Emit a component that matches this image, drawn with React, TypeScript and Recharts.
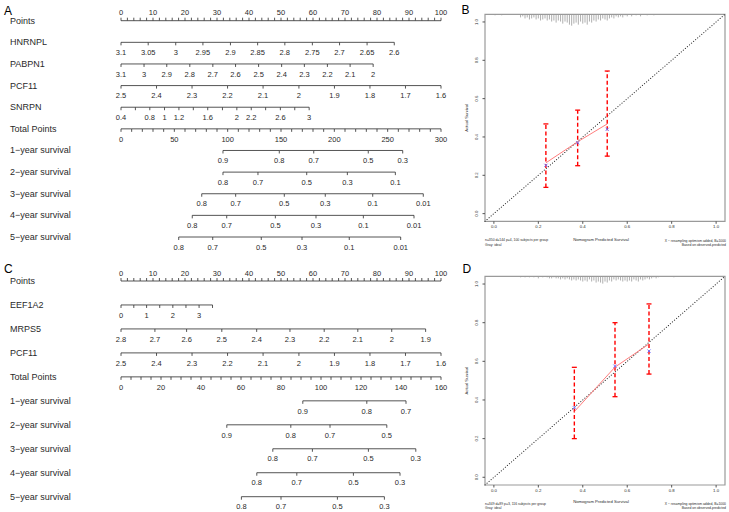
import React from 'react';
import { ComposedChart, Scatter, XAxis, YAxis, ReferenceArea } from 'recharts';

const FONT = '"Liberation Sans", Arial, Helvetica, sans-serif';
const INK = '#2a2a2a';

const range = (a: number, b: number, step: number) => {
  const out: number[] = [];
  for (let v = a; v <= b + 1e-9; v += step) out.push(Math.round(v * 1000) / 1000);
  return out;
};

// ---------------- Panel A nomogram ----------------
const rowNamesA = ['Points', 'HNRNPL', 'PABPN1', 'PCF11', 'SNRPN', 'Total Points',
  '1\u2212year survival', '2\u2212year survival', '3\u2212year survival', '4\u2212year survival', '5\u2212year survival'];
const pointsTicks = range(0, 100, 2);
const pointsLabels = pointsTicks.map((v) => (v % 10 === 0 ? String(v) : ''));

const hnrnplLabels = ['3.1', '3.05', '3', '2.95', '2.9', '2.85', '2.8', '2.75', '2.7', '2.65', '2.6'];
const hnrnplPoints = [0, 8.5, 17.1, 25.6, 34.2, 42.7, 51.2, 59.8, 68.3, 76.9, 85.4];
const pabpn1Labels = ['3.1', '3', '2.9', '2.8', '2.7', '2.6', '2.5', '2.4', '2.3', '2.2', '2.1', '2'];
const pabpn1Points = [0, 7.2, 14.3, 21.5, 28.7, 35.8, 43.0, 50.2, 57.3, 64.5, 71.6, 78.8];
const pcf11Labels = ['2.5', '2.4', '2.3', '2.2', '2.1', '2', '1.9', '1.8', '1.7', '1.6'];
const pcf11Points = [0, 11.1, 22.2, 33.3, 44.4, 55.6, 66.7, 77.8, 88.9, 100];
const snrpnLabels = ['0.4', '', '0.8', '1', '1.2', '', '1.6', '', '2', '2.2', '', '2.6', '', '3'];
const snrpnPoints = [0, 4.5, 9.0, 13.6, 18.1, 22.6, 27.1, 31.7, 36.2, 40.7, 45.2, 49.8, 54.3, 58.8];
const totalTicksA = range(0, 300, 10);
const totalLabelsA = totalTicksA.map((v) => (v % 50 === 0 ? String(v) : ''));

const surv1ALabels = ['0.9', '0.8', '0.7', '0.5', '0.3'];
const surv1APos = [95.6, 148.4, 180.7, 231.8, 264.1];
const surv2ALabels = ['0.8', '0.7', '0.5', '0.3', '0.1'];
const surv2APos = [95.6, 128.4, 174.1, 212.2, 257.2];
const surv3ALabels = ['0.8', '0.7', '0.5', '0.3', '0.1', '0.01'];
const surv3APos = [75.7, 107.5, 153.1, 191.5, 236.0, 283.4];
const surv4ALabels = ['0.8', '0.7', '0.5', '0.3', '0.1', '0.01'];
const surv4APos = [66.8, 99.1, 144.7, 182.8, 227.2, 274.7];
const surv5ALabels = ['0.8', '0.7', '0.5', '0.3', '0.1', '0.01'];
const surv5APos = [54.1, 86.0, 131.5, 169.7, 214.0, 262.2];

// ---------------- Panel C nomogram ----------------
const rowNamesC = ['Points', 'EEF1A2', 'MRPS5', 'PCF11', 'Total Points',
  '1\u2212year survival', '2\u2212year survival', '3\u2212year survival', '4\u2212year survival', '5\u2212year survival'];
const eef1a2Labels = ['0', '', '1', '', '2', '', '3', ''];
const eef1a2Points = [0, 4.0, 8.0, 12.1, 16.2, 20.3, 24.4, 28.6];
const mrps5Labels = ['2.8', '2.7', '2.6', '2.5', '2.4', '2.3', '2.2', '2.1', '2', '1.9'];
const mrps5Points = [0, 10.6, 20.5, 31.5, 42.4, 52.8, 63.5, 74.0, 84.6, 95.2];
const pcf11CLabels = ['2.5', '2.4', '2.3', '2.2', '2.1', '2', '1.9', '1.8', '1.7', '1.6'];
const pcf11CPoints = [0, 11.1, 22.2, 33.3, 44.4, 55.6, 66.7, 77.8, 88.9, 100];
const totalTicksC = range(0, 160, 5);
const totalLabelsC = totalTicksC.map((v) => (v % 20 === 0 ? String(v) : ''));

const surv1CLabels = ['0.9', '0.8', '0.7'];
const surv1CPos = [90.9, 122.9, 142.5];
const surv2CLabels = ['0.9', '0.8', '0.7', '0.5'];
const surv2CPos = [52.9, 84.9, 104.5, 132.9];
const surv3CLabels = ['0.8', '0.7', '0.5', '0.3'];
const surv3CPos = [75.9, 95.7, 123.7, 147.4];
const surv4CLabels = ['0.8', '0.7', '0.5', '0.3'];
const surv4CPos = [67.9, 87.9, 116.2, 139.5];
const surv5CLabels = ['0.8', '0.7', '0.5', '0.3'];
const surv5CPos = [60.2, 80.0, 108.2, 131.7];

// ---------------- Calibration B ----------------
const calTicks = [0, 0.2, 0.4, 0.6, 0.8, 1.0];
const calBPred = [0.234, 0.377, 0.51];
const calBObs = [0.265, 0.375, 0.468];
const calBCorr = [0.252, 0.37, 0.44];
const calBLow = [0.137, 0.25, 0.30];
const calBHigh = [0.468, 0.54, 0.744];
const rugBX = [0.005, 0.035, 0.12, 0.13, 0.14, 0.15, 0.16, 0.17, 0.18, 0.19, 0.2, 0.21, 0.22, 0.23, 0.24, 0.25,
  0.26, 0.27, 0.28, 0.29, 0.3, 0.31, 0.32, 0.33, 0.34, 0.35, 0.36, 0.37, 0.38, 0.39, 0.4, 0.41, 0.42, 0.43,
  0.44, 0.45, 0.46, 0.47, 0.48, 0.49, 0.5, 0.51, 0.52, 0.53, 0.54, 0.55, 0.56, 0.57, 0.58, 0.59, 0.6, 0.62,
  0.64, 0.66, 0.69, 0.72];
const rugBN = [1, 1, 3, 2, 4, 3, 5, 4, 3, 5, 4, 6, 5, 4, 6, 5,
  7, 6, 8, 6, 7, 9, 7, 8, 10, 11, 9, 8, 10, 7, 9, 8, 10, 7,
  8, 6, 7, 5, 6, 4, 5, 6, 4, 3, 4, 2, 3, 2, 3, 1, 2, 2,
  1, 2, 1, 1];

// ---------------- Calibration D ----------------
const calDPred = [0.362, 0.545, 0.698];
const calDObs = [0.34, 0.57, 0.69];
const calDCorr = [0.36, 0.575, 0.653];
const calDLow = [0.20, 0.417, 0.534];
const calDHigh = [0.569, 0.80, 0.897];
const rugDX = [0.12, 0.14, 0.16, 0.18, 0.2, 0.22, 0.24, 0.25, 0.26, 0.27, 0.28, 0.29, 0.3, 0.31, 0.32, 0.33,
  0.34, 0.35, 0.36, 0.37, 0.38, 0.39, 0.4, 0.41, 0.42, 0.43, 0.44, 0.45, 0.46, 0.47, 0.48, 0.49, 0.5, 0.51,
  0.52, 0.53, 0.54, 0.55, 0.56, 0.57, 0.58, 0.59, 0.6, 0.61, 0.62, 0.63, 0.64, 0.65, 0.66, 0.67, 0.68, 0.69,
  0.7, 0.71, 0.72, 0.73, 0.74, 0.81];
const rugDN = [1, 1, 1, 1, 2, 1, 1, 2, 2, 1, 2, 2, 3, 2, 3, 2,
  3, 4, 3, 4, 3, 4, 5, 4, 5, 3, 5, 4, 6, 5, 6, 7, 5, 6,
  4, 5, 3, 4, 3, 4, 5, 4, 5, 4, 5, 3, 4, 5, 3, 4, 3, 2,
  3, 2, 1, 2, 1, 1];

// ---------------- helpers ----------------
type Row = { labels: string[]; pos: number[]; axis: 'pts' | 'tot'; up?: boolean };

const rowData = (labels: string[], pos: number[], row: number) =>
  pos.map((x, i) => ({ x, y: row, label: labels[i] }));

const makeTickShape = (up: boolean) => (p: any) => {
  const { cx, cy, payload } = p;
  if (cx == null || cy == null) return <g />;
  return (
    <g>
      <line x1={cx} x2={cx} y1={cy} y2={up ? cy - 3 : cy + 3} stroke={INK} strokeWidth={0.8} />
      {payload.label ? (
        <text x={cx} y={up ? cy - 8 : cy + 10.2} textAnchor="middle" dominantBaseline="central" fontSize={7.5}
          fill={INK} fontFamily={FONT}>{payload.label}</text>
      ) : null}
    </g>
  );
};
const tickDown = makeTickShape(false);
const tickUp = makeTickShape(true);

function Nomogram(props: { rowNames: string[]; rows: Row[]; totalMax: number; top: number; height: number; mTop: number; mBottom: number }) {
  const { rowNames, rows, totalMax, top, height, mTop, mBottom } = props;
  const n = rowNames.length - 1;
  return (
    <div style={{ position: 'absolute', left: 0, top, width: 470, height }}>
      <ComposedChart width={470} height={height} margin={{ top: mTop, right: 29, bottom: mBottom, left: 0 }}>
        <XAxis xAxisId="pts" hide type="number" dataKey="x" domain={[0, 100]} />
        <XAxis xAxisId="tot" hide type="number" dataKey="x" domain={[0, totalMax]} />
        <YAxis yAxisId="rows" type="number" dataKey="y" domain={[0, n]} reversed ticks={range(0, n, 1)}
          interval={0} width={121} axisLine={false} tickLine={false}
          tick={(p: any) => (
            <text x={10} y={p.y} dominantBaseline="central" fontSize={9} fill={INK} fontFamily={FONT}>
              {rowNames[p.payload.value]}
            </text>
          )} />
        {rows.map((r, i) => (
          <Scatter key={i} xAxisId={r.axis} yAxisId="rows" data={rowData(r.labels, r.pos, i)}
            line={{ stroke: INK, strokeWidth: 0.8 }} shape={r.up ? tickUp : tickDown} isAnimationActive={false} />
        ))}
      </ComposedChart>
    </div>
  );
}

const capShape = (p: any) => {
  const { cx, cy } = p;
  if (cx == null || cy == null) return <g />;
  return <line x1={cx - 2.5} x2={cx + 2.5} y1={cy} y2={cy} stroke="#ff0000" strokeWidth={1.3} />;
};
const crossShape = (p: any) => {
  const { cx, cy } = p;
  if (cx == null || cy == null) return <g />;
  const s = 1.6;
  return (
    <g stroke="#6b6bff" strokeWidth={0.9}>
      <line x1={cx - s} x2={cx + s} y1={cy - s} y2={cy + s} />
      <line x1={cx - s} x2={cx + s} y1={cy + s} y2={cy - s} />
    </g>
  );
};
const noShape = () => <g />;

function Calibration(props: {
  top: number; height: number; mTop: number; mBottom: number;
  pred: number[]; obs: number[]; corr: number[]; low: number[]; high: number[]; rugX: number[]; rugN: number[];
}) {
  const { top, height, mTop, mBottom, pred, obs, corr, low, high, rugX, rugN } = props;
  const rugData = rugX.map((x, i) => ({ x, n: rugN[i] }));
  const rugShape = (p: any) => {
    const { cx, cy } = p;
    if (cx == null || cy == null) return <g />;
    return <line x1={cx} x2={cx} y1={mTop} y2={cy} stroke="#9a9a9a" strokeWidth={0.8} />;
  };
  return (
    <div style={{ position: 'absolute', left: 470, top, width: 259, height }}>
      <ComposedChart width={259} height={height} margin={{ top: mTop, right: 4, bottom: mBottom, left: 0 }}>
        <XAxis xAxisId="c" type="number" dataKey="x" domain={[-0.04, 1.04]} ticks={calTicks} interval={0}
          tickFormatter={(v: number) => v.toFixed(1)} height={10} tickSize={2.5} tickMargin={1.5} axisLine={false}
          stroke="#555" tick={{ fontSize: 4.3, fill: INK, fontFamily: FONT }} />
        <YAxis yAxisId="c" type="number" dataKey="y" domain={[-0.04, 1.04]} ticks={calTicks} interval={0}
          width={15} tickSize={2.5} axisLine={false} stroke="#555"
          tick={(p: any) => (
            <text x={7} y={p.y} transform={`rotate(-90 7 ${p.y})`} textAnchor="middle" dominantBaseline="central"
              fontSize={4.3} fill={INK} fontFamily={FONT}>{Number(p.payload.value).toFixed(1)}</text>
          )} />
        <YAxis yAxisId="rug" hide type="number" dataKey="n" domain={[0, 200]} reversed />
        <Scatter xAxisId="c" yAxisId="rug" data={rugData} shape={rugShape} isAnimationActive={false} />
        <Scatter xAxisId="c" yAxisId="c" data={[{ x: -0.04, y: -0.04 }, { x: 1.04, y: 1.04 }]}
          line={{ stroke: '#333', strokeWidth: 1.1, strokeDasharray: '0.1 2.6', strokeLinecap: 'round' }}
          shape={noShape} isAnimationActive={false} />
        {pred.map((x, i) => (
          <Scatter key={i} xAxisId="c" yAxisId="c" data={[{ x, y: low[i] }, { x, y: high[i] }]}
            line={{ stroke: '#ff0000', strokeWidth: 1.4, strokeDasharray: '4 2.5' }} shape={capShape}
            isAnimationActive={false} />
        ))}
        <Scatter xAxisId="c" yAxisId="c" data={pred.map((x, i) => ({ x, y: obs[i] }))}
          line={{ stroke: '#ff6e6e', strokeWidth: 0.9 }} shape={noShape} isAnimationActive={false} />
        <Scatter xAxisId="c" yAxisId="c" data={pred.map((x, i) => ({ x, y: corr[i] }))}
          shape={crossShape} isAnimationActive={false} />
        <ReferenceArea xAxisId="c" yAxisId="c" x1={-0.04} x2={1.04} y1={-0.04} y2={1.04} fill="none"
          fillOpacity={0} stroke="#9a9a9a" strokeWidth={1.2} ifOverflow="visible" />
      </ComposedChart>
    </div>
  );
}

const rowsA: Row[] = [
  { labels: pointsLabels, pos: pointsTicks, axis: 'pts', up: true },
  { labels: hnrnplLabels, pos: hnrnplPoints, axis: 'pts' },
  { labels: pabpn1Labels, pos: pabpn1Points, axis: 'pts' },
  { labels: pcf11Labels, pos: pcf11Points, axis: 'pts' },
  { labels: snrpnLabels, pos: snrpnPoints, axis: 'pts' },
  { labels: totalLabelsA, pos: totalTicksA, axis: 'tot' },
  { labels: surv1ALabels, pos: surv1APos, axis: 'tot' },
  { labels: surv2ALabels, pos: surv2APos, axis: 'tot' },
  { labels: surv3ALabels, pos: surv3APos, axis: 'tot' },
  { labels: surv4ALabels, pos: surv4APos, axis: 'tot' },
  { labels: surv5ALabels, pos: surv5APos, axis: 'tot' },
];
const rowsC: Row[] = [
  { labels: pointsLabels, pos: pointsTicks, axis: 'pts', up: true },
  { labels: eef1a2Labels, pos: eef1a2Points, axis: 'pts' },
  { labels: mrps5Labels, pos: mrps5Points, axis: 'pts' },
  { labels: pcf11CLabels, pos: pcf11CPoints, axis: 'pts' },
  { labels: totalLabelsC, pos: totalTicksC, axis: 'tot' },
  { labels: surv1CLabels, pos: surv1CPos, axis: 'tot' },
  { labels: surv2CLabels, pos: surv2CPos, axis: 'tot' },
  { labels: surv3CLabels, pos: surv3CPos, axis: 'tot' },
  { labels: surv4CLabels, pos: surv4CPos, axis: 'tot' },
  { labels: surv5CLabels, pos: surv5CPos, axis: 'tot' },
];

const small = { fontFamily: FONT, fill: INK } as const;

export default function App() {
  return (
    <div style={{ position: 'absolute', left: 0, top: 0, width: 729, height: 512, background: '#fff', overflow: 'hidden' }}>
      <Nomogram rowNames={rowNamesA} rows={rowsA} totalMax={300} top={0} height={256} mTop={20.7} mBottom={19} />
      <Nomogram rowNames={rowNamesC} rows={rowsC} totalMax={160} top={256} height={256} mTop={25} mBottom={15.3} />
      <Calibration top={0} height={256} mTop={14.3} mBottom={24.7} pred={calBPred} obs={calBObs} corr={calBCorr}
        low={calBLow} high={calBHigh} rugX={rugBX} rugN={rugBN} />
      <Calibration top={256} height={256} mTop={20.3} mBottom={17} pred={calDPred} obs={calDObs} corr={calDCorr}
        low={calDLow} high={calDHigh} rugX={rugDX} rugN={rugDN} />
      <svg width={729} height={512} style={{ position: 'absolute', left: 0, top: 0, pointerEvents: 'none' }}>
        <text x={4} y={15} fontSize={12} {...small} fill="#000">A</text>
        <text x={461.5} y={13.5} fontSize={12} {...small} fill="#000">B</text>
        <text x={4} y={272.5} fontSize={12} {...small} fill="#000">C</text>
        <text x={462.5} y={272.5} fontSize={12} {...small} fill="#000">D</text>

        <text x={467} y={117.8} transform="rotate(-90 467 117.8)" textAnchor="middle" dominantBaseline="central" fontSize={4.2} {...small}>Actual Survival</text>
        <text x={601} y={239.3} textAnchor="middle" dominantBaseline="central" fontSize={4.2} {...small}>Nomogram Predicted Survival</text>
        <text x={485} y={240.3} dominantBaseline="central" fontSize={3.4} {...small}>n=350 d=144 p=4, 100 subjects per group</text>
        <text x={485} y={244.5} dominantBaseline="central" fontSize={3.4} {...small}>Gray: ideal</text>
        <text x={726} y={240.7} textAnchor="end" dominantBaseline="central" fontSize={3.4} {...small}>X − resampling optimism added, B=1000</text>
        <text x={726} y={244.7} textAnchor="end" dominantBaseline="central" fontSize={3.4} {...small}>Based on observed-predicted</text>

        <text x={467} y={380.6} transform="rotate(-90 467 380.6)" textAnchor="middle" dominantBaseline="central" fontSize={4.2} {...small}>Actual Survival</text>
        <text x={601} y={501.7} textAnchor="middle" dominantBaseline="central" fontSize={4.2} {...small}>Nomogram Predicted Survival</text>
        <text x={485} y={504} dominantBaseline="central" fontSize={3.4} {...small}>n=349 d=89 p=3, 116 subjects per group</text>
        <text x={485} y={508} dominantBaseline="central" fontSize={3.4} {...small}>Gray: ideal</text>
        <text x={726} y={504.3} textAnchor="end" dominantBaseline="central" fontSize={3.4} {...small}>X − resampling optimism added, B=1000</text>
        <text x={726} y={508} textAnchor="end" dominantBaseline="central" fontSize={3.4} {...small}>Based on observed-predicted</text>
      </svg>
    </div>
  );
}
